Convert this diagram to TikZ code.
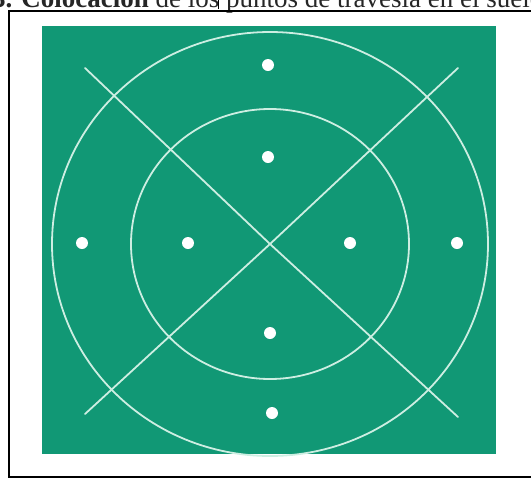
\documentclass[tikz,border=0pt]{standalone}
\usepackage{fontspec}
\setmainfont{Liberation Serif}
\definecolor{teal1}{RGB}{17,152,117}
\definecolor{chalk}{RGB}{205,238,226}
\begin{document}
\begin{tikzpicture}[x=1pt,y=-1pt,
  chalkline/.style={draw=chalk,line width=1.8pt,line cap=round},
  spot/.style={circle,fill=white,inner sep=0pt,minimum size=12pt},
  frameline/.style={draw=black,line width=2.6pt}]
\useasboundingbox (0,0) rectangle (531,480);
\clip (0,0) rectangle (531,480);
% caption (cut by page top)
\node[anchor=base west,inner sep=0pt,font=\fontsize{27}{27}\selectfont,text=black!85] (cap) at (-8,7)
  {\textbf{3. Colocación} de los puntos de travesía en el suelo};
\draw[line width=1pt] (218,0) -- (218,9);
% frame
\draw[frameline] (540,11) -- (9,11) -- (9,477) -- (540,477);
% green field
\fill[teal1] (42,26) rectangle (496,454);
% centre
\coordinate (c) at (270,244);
% circles
\draw[chalkline] (c) ellipse [x radius=218, y radius=212];
\draw[chalkline] (c) ellipse [x radius=139, y radius=135];
% diagonals
\coordinate (tl) at (85,68);
\coordinate (br) at (458,417);
\coordinate (tr) at (458,68);
\coordinate (bl) at (85,414);
\draw[chalkline] (tl) -- (c) -- (br);
\draw[chalkline] (tr) -- (c) -- (bl);
% spots
\node[spot] (p1) at (268,65) {};
\node[spot] (p2) at (268,157) {};
\node[spot] (p3) at (82,243) {};
\node[spot] (p4) at (188,243) {};
\node[spot] (p5) at (350,243) {};
\node[spot] (p6) at (457,243) {};
\node[spot] (p7) at (270,333) {};
\node[spot] (p8) at (272,413) {};
\end{tikzpicture}
\end{document}
